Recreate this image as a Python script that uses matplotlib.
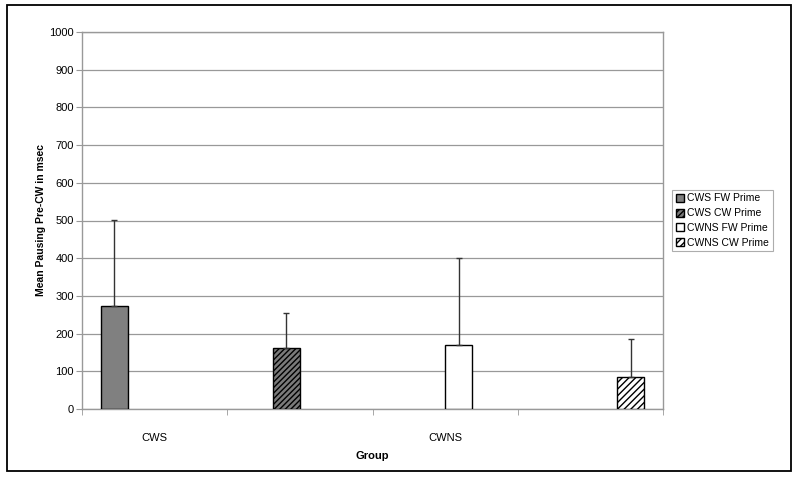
import matplotlib
matplotlib.use("Agg")
import matplotlib.pyplot as plt
from matplotlib.patches import Rectangle
import numpy as np

# data
categories = ["CWS", "", "CWNS", ""]
series = ["CWS FW Prime", "CWS CW Prime", "CWNS FW Prime", "CWNS CW Prime"]
means = [273, 161, 170, 86]
errors = [228, 94, 231, 101]

fills = ["#808080", "#7a7a7a", "#ffffff", "#ffffff"]
hatches = [None, "//////", None, "/////"]

plt.rcParams['font.family'] = ['Liberation Sans', 'DejaVu Sans']
plt.rcParams['hatch.linewidth'] = 1.0

fig = plt.figure(figsize=(7.97, 4.78), dpi=100)
ax = fig.add_axes([82/797, 1 - 409/478, (663 - 82)/797, (409 - 32)/478])

# outer chart border
fig.patches.append(Rectangle((7/797, 1 - 471/478), 784/797, 466/478,
                             transform=fig.transFigure, fill=False,
                             edgecolor="black", linewidth=1.3))

w = 0.186
x = np.arange(len(categories))
for j, name in enumerate(series):
    # each series only has a value in its own slot
    pos = x[j] + (j - 1.5) * w
    ax.bar(pos, means[j], width=w, color=fills[j], edgecolor="black",
           hatch=hatches[j], linewidth=1.0, label=name, zorder=3)
    ax.errorbar(pos, means[j], yerr=[[0], [errors[j]]], fmt="none",
                ecolor="#333333", elinewidth=1.0, capsize=2.5, capthick=1.0,
                zorder=4)

ax.set_xlim(-0.5, 3.5)
ax.set_ylim(0, 1000)
ax.set_yticks(np.arange(0, 1001, 100))
ax.yaxis.grid(True, color="#999999", linewidth=0.9, zorder=0)
ax.set_axisbelow(True)

ax.set_xticks(x)
ax.set_xticklabels(categories, fontsize=8)
ax.tick_params(axis="x", length=0, pad=17)
ax.set_xticks(np.arange(-0.5, 4.0, 1.0), minor=True)
ax.tick_params(axis="x", which="minor", length=4, color="#999999")
ax.tick_params(axis="y", labelsize=8, length=4, color="#999999", pad=2)

for s in ax.spines.values():
    s.set_color("#999999")
    s.set_linewidth(1.0)

ax.set_ylabel("Mean Pausing Pre-CW in msec", fontsize=7.5, fontweight="bold",
              labelpad=2)
ax.set_xlabel("Group", fontsize=8, fontweight="bold", labelpad=6)

leg = fig.legend(loc="center left", bbox_to_anchor=(672/797, 1 - 220.5/478),
                 fontsize=7.5, frameon=True, fancybox=False, edgecolor="#999999",
                 handlelength=0.8, handleheight=0.8, handletextpad=0.3,
                 labelspacing=0.45, borderpad=0.35, borderaxespad=0)
leg.get_frame().set_linewidth(0.8)

fig.savefig("out.png", dpi=100)
